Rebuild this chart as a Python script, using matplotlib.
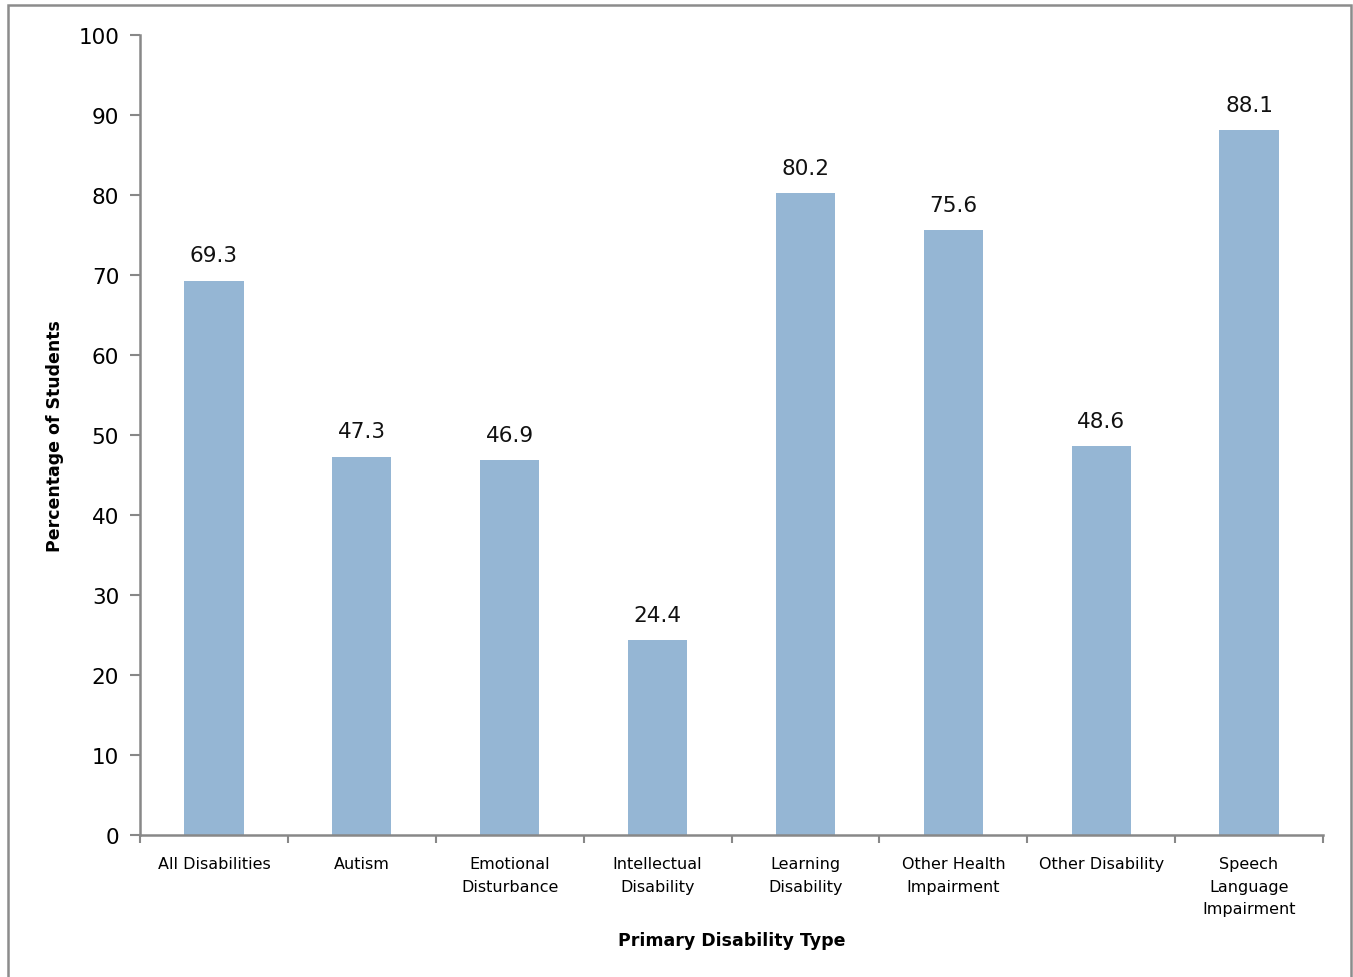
import matplotlib
matplotlib.use("Agg")
import matplotlib.pyplot as plt
from matplotlib.patches import Rectangle
import numpy as np

categories = [
    "All Disabilities", "Autism", "Emotional\nDisturbance", "Intellectual\nDisability",
    "Learning\nDisability", "Other Health\nImpairment", "Other Disability",
    "Speech\nLanguage\nImpairment",
]
values = [69.3, 47.3, 46.9, 24.4, 80.2, 75.6, 48.6, 88.1]
y_ticks = list(range(0, 101, 10))

plt.rcParams["font.family"] = ["DejaVu Sans"]

fig = plt.figure(figsize=(13.53, 9.78), dpi=100)
ax = fig.add_axes([140 / 1353, 1 - 836 / 978, (1323 - 140) / 1353, 800 / 978])

x = np.arange(len(categories))
bar_color = "#95B6D4"
ax.bar(x, values, width=0.4, color=bar_color, zorder=2)

for xi, v in zip(x, values):
    ax.text(xi, v + 1.9, f"{v:.1f}", ha="center", va="bottom", fontsize=15.5, color="#111111")

ax.set_xlim(-0.5, len(categories) - 0.5)
ax.set_ylim(0, 100)
ax.set_yticks(y_ticks)
ax.set_yticklabels([str(t) for t in y_ticks], fontsize=15.5)
ax.tick_params(axis="y", direction="out", length=7, width=1.5, color="#888888", pad=8)

ax.set_xticks(x)
ax.set_xticklabels(categories, fontsize=11.5, linespacing=1.65)
ax.tick_params(axis="x", length=0, pad=15)
ax.set_xticks(np.arange(-0.5, len(categories)), minor=True)
ax.tick_params(axis="x", which="minor", direction="out", length=6, width=1.5, color="#888888")

for side in ("top", "right"):
    ax.spines[side].set_visible(False)
for side in ("left", "bottom"):
    ax.spines[side].set_color("#888888")
    ax.spines[side].set_linewidth(1.8)

ax.set_xlabel("Primary Disability Type", fontsize=12.5, fontweight="bold")
ax.set_ylabel("Percentage of Students", fontsize=12.5, fontweight="bold")
ax.xaxis.set_label_coords(0.5, -0.12)
ax.yaxis.set_label_coords(-0.064, 0.5)

frame = Rectangle((8 / 1353, -0.05), (1351 - 8) / 1353, 1 - 6 / 978 + 0.05,
                  transform=fig.transFigure, fill=False, edgecolor="#8C8C8C", linewidth=1.8)
fig.patches.append(frame)

fig.savefig("out.png", dpi=100)
